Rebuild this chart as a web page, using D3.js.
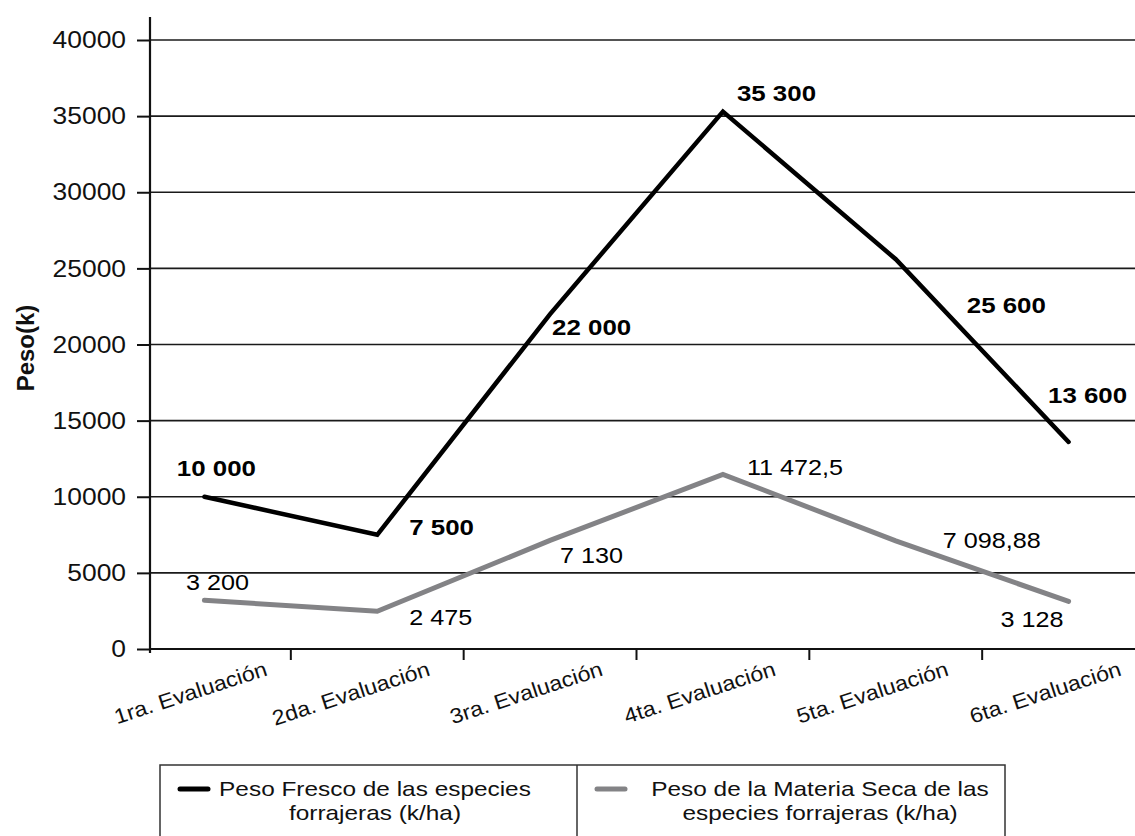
<!DOCTYPE html>
<html>
<head>
<meta charset="utf-8">
<script src="https://cdn.jsdelivr.net/npm/d3@7"></script>
<style>
  body { margin: 0; background: #fff; }
  svg { display: block; font-family: "Liberation Sans", Arial, sans-serif; }
</style>
</head>
<body>
<div id="chart"></div>
<script>
// datos
const categorias = ["1ra. Evaluación", "2da. Evaluación", "3ra. Evaluación", "4ta. Evaluación", "5ta. Evaluación", "6ta. Evaluación"];
const pesoFresco = [10000, 7500, 22000, 35300, 25600, 13600];
const materiaSeca = [3200, 2475, 7130, 11472.5, 7098.88, 3128];
const etiquetasFresco = ["10 000", "7 500", "22 000", "35 300", "25 600", "13 600"];
const etiquetasSeca = ["3 200", "2 475", "7 130", "11 472,5", "7 098,88", "3 128"];
const yTicks = [0, 5000, 10000, 15000, 20000, 25000, 30000, 35000, 40000];
const leyenda = [
  ["Peso Fresco de las especies", "forrajeras (k/ha)"],
  ["Peso de la Materia Seca de las", "especies forrajeras (k/ha)"]
];

// posiciones de las etiquetas respecto al punto: [dx, dy, anchor]
const offFresco = [[12, -21, "middle"], [32, 0, "start"], [2, 21, "start"], [14, -11, "start"], [71, 54, "start"], [19, -39, "middle"]];
const offSeca = [[13, -10, "middle"], [32, 14, "start"], [10, 23, "start"], [24, 1, "start"], [47, 7, "start"], [-5, 26, "end"]];

const W = 1135, H = 836;
const mLeft = 150, mRight = 1135, mTop = 40, mBottom = 649;

const svg = d3.select("#chart").append("svg")
  .attr("width", W).attr("height", H);

const x = d3.scaleBand().domain(categorias).range([118, 1155]).paddingInner(0).paddingOuter(0);
const cx = d => x(d) + x.bandwidth() / 2;
const y = d3.scaleLinear().domain([0, 40000]).range([mBottom, mTop]);

// el original está algo estirado en horizontal
function stretch(sel, px, py, sx, rot) {
  sel.attr("transform", `translate(${px},${py})` + (rot ? ` rotate(${rot})` : "") + ` scale(${sx},1)`);
}

// líneas de cuadrícula
svg.append("g")
  .selectAll("line")
  .data(yTicks.filter(t => t > 0))
  .enter().append("line")
  .attr("x1", mLeft).attr("x2", mRight)
  .attr("y1", d => y(d)).attr("y2", d => y(d))
  .attr("stroke", "#1a1a1a").attr("stroke-width", 1.6);

// eje Y
const yAxis = svg.append("g")
  .attr("transform", `translate(${mLeft},0)`)
  .call(d3.axisLeft(y).tickValues(yTicks).tickSize(13).tickPadding(11).tickFormat(d3.format("d")));
yAxis.select(".domain").remove();
yAxis.selectAll(".tick line").attr("stroke", "#111").attr("stroke-width", 2);
yAxis.selectAll(".tick text")
  .attr("fill", "#111")
  .style("font-size", "24px")
  .attr("transform", "scale(1.1,1)")
  .attr("x", -24 / 1.1);

svg.append("line")
  .attr("x1", mLeft).attr("x2", mLeft)
  .attr("y1", 17).attr("y2", mBottom + 4)
  .attr("stroke", "#111").attr("stroke-width", 2.2);

// eje X
svg.append("line")
  .attr("x1", mLeft).attr("x2", mRight)
  .attr("y1", mBottom).attr("y2", mBottom)
  .attr("stroke", "#111").attr("stroke-width", 2.2);

const limites = categorias.slice(1).map(c => x(c));
svg.append("g")
  .selectAll("line")
  .data(limites)
  .enter().append("line")
  .attr("x1", d => d).attr("x2", d => d)
  .attr("y1", mBottom).attr("y2", mBottom + 11)
  .attr("stroke", "#111").attr("stroke-width", 2);

svg.append("g")
  .selectAll("text")
  .data(categorias)
  .enter().append("text")
  .attr("text-anchor", "end")
  .style("font-size", "21px")
  .attr("fill", "#111")
  .text(d => d)
  .each(function(d, i) { stretch(d3.select(this), cx(d) + (i === 0 ? 64 : 54), mBottom + 26, 1.1, -18); });

// título del eje Y
svg.append("text")
  .attr("transform", "translate(34,348) rotate(-90)")
  .attr("text-anchor", "middle")
  .style("font-size", "24px")
  .style("font-weight", "bold")
  .attr("fill", "#111")
  .text("Peso(k)");

// series
const line = d3.line().x((d, i) => cx(categorias[i])).y(d => y(d));

svg.append("path")
  .datum(materiaSeca)
  .attr("d", line)
  .attr("fill", "none")
  .attr("stroke", "#838386")
  .attr("stroke-width", 5)
  .attr("stroke-linecap", "round")
  .attr("stroke-linejoin", "miter");

svg.append("path")
  .datum(pesoFresco)
  .attr("d", line)
  .attr("fill", "none")
  .attr("stroke", "#000")
  .attr("stroke-width", 4.5)
  .attr("stroke-linecap", "round")
  .attr("stroke-linejoin", "miter");

// etiquetas de datos
svg.append("g")
  .selectAll("text")
  .data(pesoFresco)
  .enter().append("text")
  .attr("text-anchor", (d, i) => offFresco[i][2])
  .style("font-size", "22.5px")
  .style("font-weight", "bold")
  .attr("fill", "#000")
  .text((d, i) => etiquetasFresco[i])
  .each(function(d, i) {
    stretch(d3.select(this), cx(categorias[i]) + offFresco[i][0], y(d) + offFresco[i][1], 1.15);
  });

svg.append("g")
  .selectAll("text")
  .data(materiaSeca)
  .enter().append("text")
  .attr("text-anchor", (d, i) => offSeca[i][2])
  .style("font-size", "22.5px")
  .attr("fill", "#000")
  .text((d, i) => etiquetasSeca[i])
  .each(function(d, i) {
    stretch(d3.select(this), cx(categorias[i]) + offSeca[i][0], y(d) + offSeca[i][1], 1.12);
  });

// leyenda
const lx0 = 160, lx1 = 577, lx2 = 1005, ly0 = 765;
svg.append("rect")
  .attr("x", lx0).attr("y", ly0)
  .attr("width", lx2 - lx0).attr("height", 90)
  .attr("fill", "none").attr("stroke", "#333").attr("stroke-width", 1.5);
svg.append("line")
  .attr("x1", lx1).attr("x2", lx1).attr("y1", ly0).attr("y2", H)
  .attr("stroke", "#333").attr("stroke-width", 1.5);

const colores = ["#000", "#838386"];
const celdas = [lx0, lx1];
const centros = [375, 820];
leyenda.forEach((txt, i) => {
  const g = svg.append("g");
  g.append("line")
    .attr("x1", celdas[i] + 20).attr("x2", celdas[i] + 48)
    .attr("y1", 789).attr("y2", 789)
    .attr("stroke", colores[i]).attr("stroke-width", 5)
    .attr("stroke-linecap", "round");
  txt.forEach((t, j) => {
    g.append("text")
      .attr("text-anchor", "middle")
      .style("font-size", "20px")
      .attr("fill", "#111")
      .text(t)
      .call(s => stretch(s, centros[i], 796 + j * 24, 1.22));
  });
});
</script>
</body>
</html>
